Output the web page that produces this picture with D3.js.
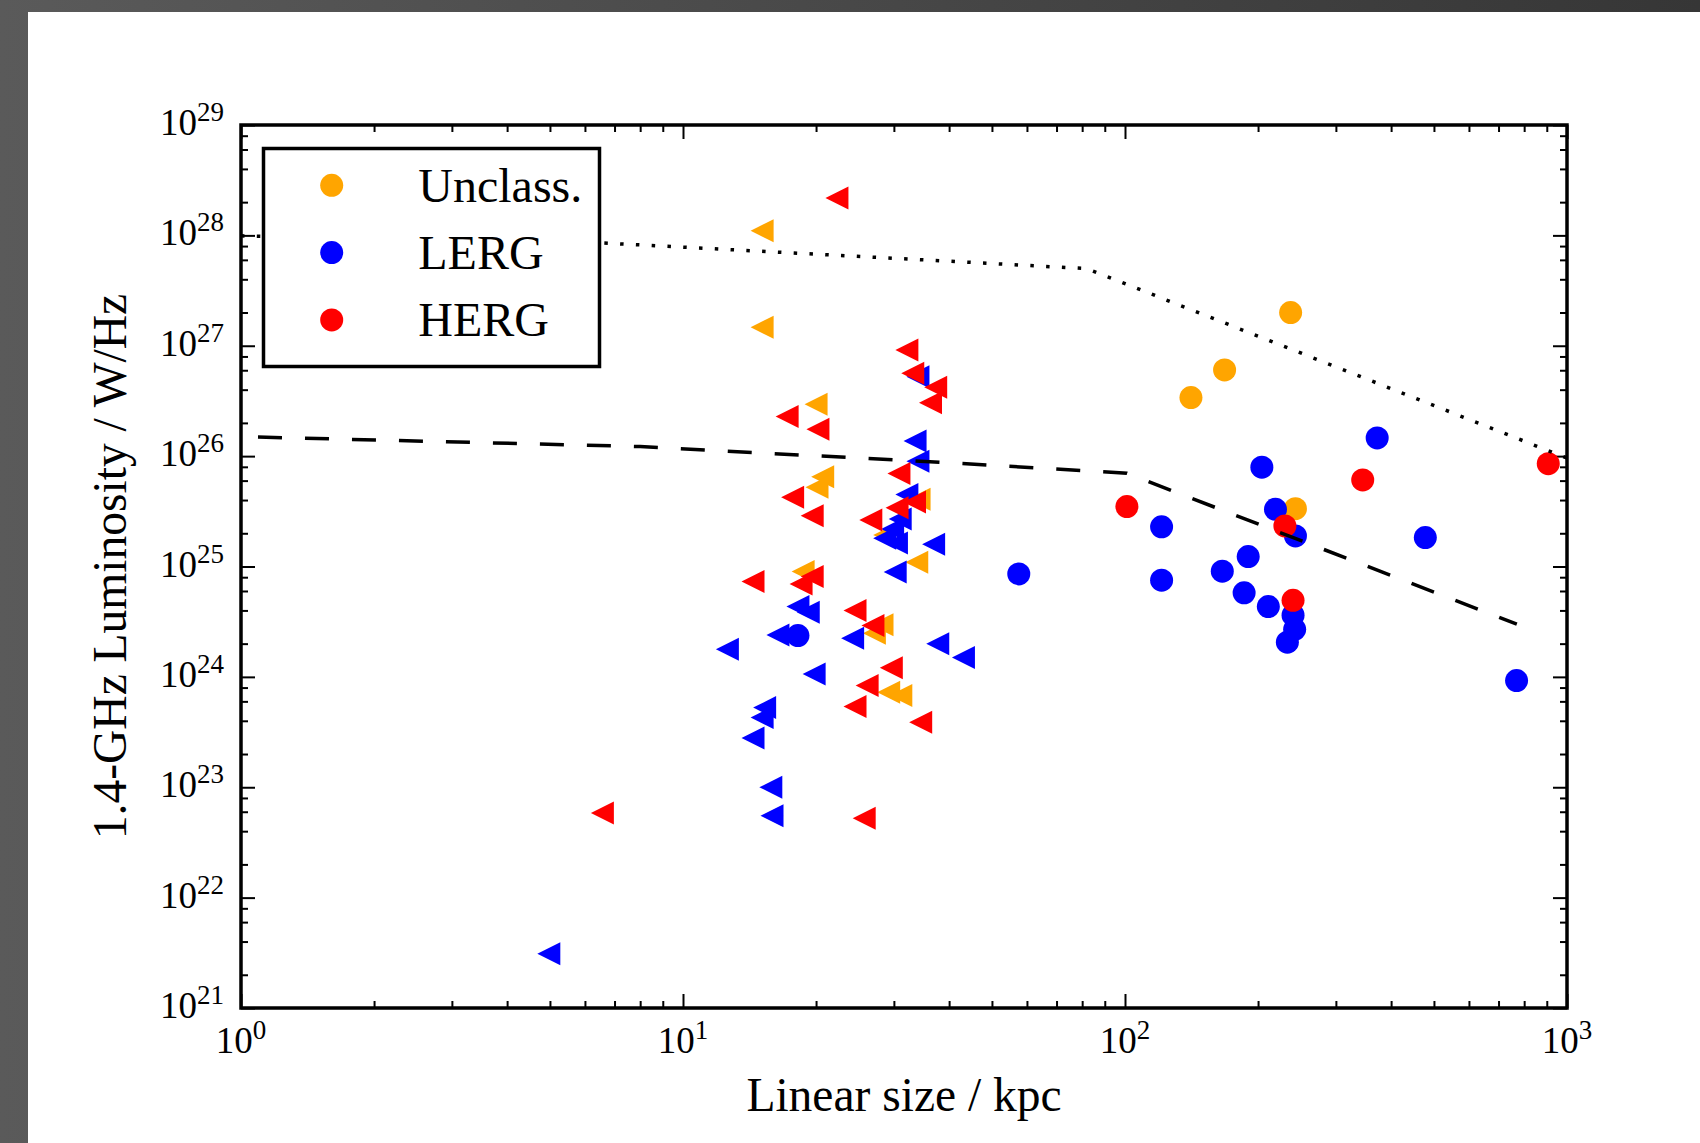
<!DOCTYPE html>
<html>
<head>
<meta charset="utf-8">
<script src="https://cdn.jsdelivr.net/npm/d3@7"></script>
<style>
  html, body { margin: 0; padding: 0; background: #444; }
  svg { display: block; }
</style>
</head>
<body>
<svg id="chart" width="1700" height="1143"></svg>
<script>
// Classes, in legend order
const classes = ["Unclass.", "LERG", "HERG"];
const classColors = ["#FFA500", "#0000FF", "#FF0000"];

// [linear size / kpc, 1.4-GHz luminosity / W/Hz]
// upper limits on size (left triangles)
const unclassLimits = [
    [15.1, 1.10e28], [15.1, 1.47e27], [20.0, 2.95e26], [20.7, 6.52e25], [20.1, 5.23e25],
    [34.2, 4.07e25], [28.6, 1.93e25], [33.8, 1.09e25], [18.7, 8.99e24], [28.2, 2.96e24],
    [27.1, 2.49e24], [29.2, 7.27e23], [31.1, 6.77e23]
];
const lergLimits = [
    [34.0, 5.25e26], [33.5, 1.37e26], [34.0, 8.99e25], [32.1, 4.48e25], [31.0, 2.70e25],
    [29.8, 2.19e25], [28.6, 1.80e25], [30.4, 1.63e25], [36.9, 1.59e25], [30.2, 8.93e24],
    [18.2, 4.33e24], [19.2, 3.86e24], [16.4, 2.40e24], [12.6, 1.78e24], [24.2, 2.24e24],
    [37.7, 2.00e24], [43.1, 1.50e24], [19.8, 1.06e24], [15.3, 5.27e23], [15.1, 4.28e23],
    [14.4, 2.79e23], [15.8, 1.00e23], [15.9, 5.51e22], [4.97, 3.10e21]
];
const hergLimits = [
    [22.3, 2.18e28], [32.1, 9.16e26], [33.1, 5.64e26], [37.3, 4.21e26], [36.3, 3.05e26],
    [17.2, 2.28e26], [20.2, 1.75e26], [30.8, 6.95e25], [17.7, 4.24e25], [19.6, 2.89e25],
    [33.4, 3.85e25], [30.5, 3.40e25], [26.6, 2.64e25], [14.4, 7.30e24], [19.6, 8.10e24],
    [18.5, 6.95e24], [24.5, 3.99e24], [26.9, 2.92e24], [29.6, 1.21e24], [26.1, 8.34e23],
    [24.5, 5.38e23], [34.5, 3.89e23], [6.57, 5.83e22], [25.7, 5.25e22]
];

// measured sizes (circles)
const unclassPoints = [[237, 2.00e27], [168, 6.04e26], [141, 3.39e26], [243, 3.34e25]];
const lergPoints = [
    [57.5, 8.57e24], [18.2, 2.37e24], [204, 7.94e25], [372, 1.46e26], [219, 3.30e25],
    [243, 1.89e25], [121, 2.29e25], [478, 1.83e25], [190, 1.23e25], [166, 9.06e24],
    [121, 7.52e24], [186, 5.77e24], [211, 4.34e24], [240, 3.62e24], [242, 2.70e24],
    [233, 2.06e24], [769, 9.27e23]
];
const hergPoints = [[101, 3.49e25], [345, 6.08e25], [230, 2.33e25], [240, 4.94e24], [907, 8.55e25]];

// model tracks
const dottedTrack = [[1, 9.9e27], [6.5, 8.55e27], [8, 8.2e27], [38, 5.9e27], [68, 5.2e27], [82, 5.0e27], [1000, 9.6e25]];
const dashedTrack = [[1, 1.5e26], [8, 1.22e26], [38, 8.8e25], [64, 7.8e25], [101, 7.0e25], [770, 3.0e24]];

// tick exponents
const xExps = [0, 1, 2, 3];
const yExps = [21, 22, 23, 24, 25, 26, 27, 28, 29];

// Layout
const W = 1700, H = 1143;
const plot = { left: 241, right: 1567, top: 125, bottom: 1008 };
const font = "'Liberation Serif', 'Times New Roman', serif";
const titleSize = 47.5;

const svg = d3.select("#chart");

// dark frame around the white page
const grad = svg.append("defs").append("linearGradient").attr("id", "frame")
    .attr("x1", 0).attr("x2", 1).attr("y1", 0).attr("y2", 0);
grad.append("stop").attr("offset", 0).attr("stop-color", "#5a5a5a");
grad.append("stop").attr("offset", 1).attr("stop-color", "#363636");
svg.append("rect").attr("width", W).attr("height", H).attr("fill", "url(#frame)");
svg.append("rect").attr("x", 28).attr("y", 12).attr("width", W - 28).attr("height", H - 12).attr("fill", "#fff");

svg.append("clipPath").attr("id", "plotclip")
    .append("rect")
    .attr("x", plot.left).attr("y", plot.top)
    .attr("width", plot.right - plot.left).attr("height", plot.bottom - plot.top);

// Scales
const x = d3.scaleLog().domain([1, 1000]).range([plot.left, plot.right]);
const y = d3.scaleLog().domain([1e21, 1e29]).range([plot.bottom, plot.top]);

const xMajor = xExps.map(e => Math.pow(10, e));
const xMinor = [];
for (let e = 0; e < 3; e++) for (let m = 2; m <= 9; m++) xMinor.push(m * Math.pow(10, e));
const yMajor = yExps.map(e => Math.pow(10, e));
const yMinor = [];
for (let e = 21; e < 29; e++) for (const m of [2, 4, 6, 8]) yMinor.push(m * Math.pow(10, e));

// Ticks on all four sides, pointing inward
function tickGroup(axis, tx, ty) {
    const g = svg.append("g").attr("transform", `translate(${tx},${ty})`).call(axis);
    g.select(".domain").remove();
    g.selectAll("line").attr("stroke", "#000").attr("stroke-width", 2);
    g.selectAll("text").remove();
}
[[xMajor, 14], [xMinor, 7]].forEach(([vals, len]) => {
    tickGroup(d3.axisBottom(x).tickValues(vals).tickSize(-len), 0, plot.bottom);
    tickGroup(d3.axisTop(x).tickValues(vals).tickSize(-len), 0, plot.top);
});
[[yMajor, 14], [yMinor, 7]].forEach(([vals, len]) => {
    tickGroup(d3.axisLeft(y).tickValues(vals).tickSize(-len), plot.left, 0);
    tickGroup(d3.axisRight(y).tickValues(vals).tickSize(-len), plot.right, 0);
});

// Tick labels as 10^n
function powLabel(text, e) {
    text.append("tspan").text("10");
    text.append("tspan").attr("dy", -14).attr("font-size", 27).text(e);
}
svg.append("g").selectAll("text")
    .data(xExps)
    .join("text")
    .attr("x", e => x(Math.pow(10, e)))
    .attr("y", plot.bottom + 45)
    .attr("text-anchor", "middle")
    .attr("font-family", font)
    .attr("font-size", 37)
    .each(function (e) { powLabel(d3.select(this), e); });
svg.append("g").selectAll("text")
    .data(yExps)
    .join("text")
    .attr("x", plot.left - 17)
    .attr("y", e => y(Math.pow(10, e)) + 10)
    .attr("text-anchor", "end")
    .attr("font-family", font)
    .attr("font-size", 37)
    .each(function (e) { powLabel(d3.select(this), e); });

// Axis titles
svg.append("text")
    .attr("x", (plot.left + plot.right) / 2)
    .attr("y", 1111)
    .attr("text-anchor", "middle")
    .attr("font-family", font)
    .attr("font-size", titleSize)
    .text("Linear size / kpc");
svg.append("text")
    .attr("transform", `translate(126,${(plot.top + plot.bottom) / 2}) rotate(-90)`)
    .attr("text-anchor", "middle")
    .attr("font-family", font)
    .attr("font-size", titleSize)
    .text("1.4-GHz Luminosity / W/Hz");

// Markers
const marks = svg.append("g").attr("clip-path", "url(#plotclip)");
const triangleLeft = "M-11.5,0L11.5,-11.5L11.5,11.5Z";

function drawLimits(data, color) {
    marks.append("g").selectAll("path")
        .data(data)
        .join("path")
        .attr("d", triangleLeft)
        .attr("transform", d => `translate(${x(d[0])},${y(d[1])})`)
        .attr("fill", color);
}
function drawPoints(data, color) {
    marks.append("g").selectAll("circle")
        .data(data)
        .join("circle")
        .attr("cx", d => x(d[0]))
        .attr("cy", d => y(d[1]))
        .attr("r", 11.5)
        .attr("fill", color);
}
drawLimits(unclassLimits, classColors[0]);
drawPoints(unclassPoints, classColors[0]);
drawLimits(lergLimits, classColors[1]);
drawPoints(lergPoints, classColors[1]);
drawLimits(hergLimits, classColors[2]);
drawPoints(hergPoints, classColors[2]);

// Model tracks
const line = d3.line().x(d => x(d[0])).y(d => y(d[1]));
marks.append("path")
    .datum(dottedTrack)
    .attr("d", line)
    .attr("fill", "none")
    .attr("stroke", "#000")
    .attr("stroke-width", 3.5)
    .attr("stroke-dasharray", "3.5,12.3");
marks.append("path")
    .datum(dashedTrack)
    .attr("d", line)
    .attr("fill", "none")
    .attr("stroke", "#000")
    .attr("stroke-width", 3.5)
    .attr("stroke-dasharray", "24,23")
    .attr("stroke-dashoffset", 30);

// Frame
svg.append("rect")
    .attr("x", plot.left).attr("y", plot.top)
    .attr("width", plot.right - plot.left).attr("height", plot.bottom - plot.top)
    .attr("fill", "none")
    .attr("stroke", "#000")
    .attr("stroke-width", 3.5);

// Legend
const legend = svg.append("g");
legend.append("rect")
    .attr("x", 263.5).attr("y", 148.5)
    .attr("width", 336).attr("height", 218)
    .attr("fill", "#fff")
    .attr("stroke", "#000")
    .attr("stroke-width", 3.5);
const item = legend.selectAll("g.item")
    .data(classes)
    .join("g")
    .attr("class", "item")
    .attr("transform", (d, i) => `translate(0,${i * 67.3})`);
item.append("circle")
    .attr("cx", 331.7)
    .attr("cy", 185.3)
    .attr("r", 11.5)
    .attr("fill", (d, i) => classColors[i]);
item.append("text")
    .attr("x", 418.3)
    .attr("y", 201.7)
    .attr("font-family", font)
    .attr("font-size", 48)
    .text(d => d);
</script>
</body>
</html>
